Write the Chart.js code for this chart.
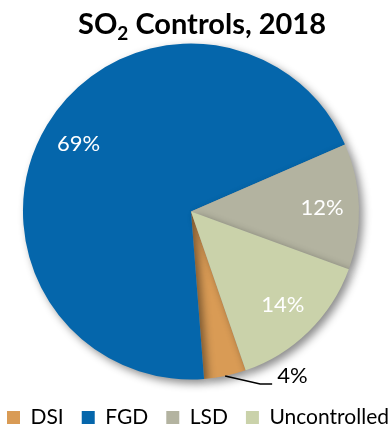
<!DOCTYPE html>
<html>
<head>
<meta charset="utf-8">
<script src="https://cdn.jsdelivr.net/npm/chart.js@4/dist/chart.umd.min.js"></script>
<style>
  html, body { margin: 0; padding: 0; background: #fff; }
  #box { width: 391px; height: 427px; }
</style>
</head>
<body>
<div id="box"><canvas id="grafico"></canvas></div>
<script>
// Dados do gráfico
const categorias = ['DSI', 'FGD', 'LSD', 'Uncontrolled'];
const valores = [4, 69, 12, 14];
const cores = ['#D99B55', '#0566AB', '#B3B3A0', '#CAD2AA'];
const FONTE = 'Lato, "Open Sans", sans-serif';

// Título com subscrito (SO2)
const pluginTitulo = {
    id: 'titulo',
    afterDraw(chart) {
        const ctx = chart.ctx;
        const partes = [
            { t: 'SO', size: 29, dy: 0 },
            { t: '2', size: 19, dy: 6 },
            { t: ' Controls, 2018', size: 29, dy: 0 }
        ];
        ctx.save();
        ctx.fillStyle = '#000';
        ctx.textBaseline = 'alphabetic';
        let total = 0;
        partes.forEach(p => {
            ctx.font = `bold ${p.size}px ${FONTE}`;
            p.w = ctx.measureText(p.t).width;
            total += p.w;
        });
        let x = 202 - total / 2;
        partes.forEach(p => {
            ctx.font = `bold ${p.size}px ${FONTE}`;
            ctx.fillText(p.t, x, 34 + p.dy);
            x += p.w;
        });
        ctx.restore();
    }
};

// Sombra da pizza
const pluginSombra = {
    id: 'sombra',
    beforeDatasetsDraw(chart) {
        const ctx = chart.ctx;
        ctx.save();
        ctx.shadowColor = 'rgba(0,0,0,0.45)';
        ctx.shadowBlur = 8;
        ctx.shadowOffsetX = 4;
        ctx.shadowOffsetY = 4;
    },
    afterDatasetsDraw(chart) {
        chart.ctx.restore();
    }
};

// Rótulos de porcentagem
const pluginRotulos = {
    id: 'rotulos',
    afterDatasetsDraw(chart) {
        const ctx = chart.ctx;
        const meta = chart.getDatasetMeta(0);
        ctx.save();
        ctx.font = `22px ${FONTE}`;
        meta.data.forEach((arc, i) => {
            const texto = Math.round(valores[i]) + '%';
            const meio = (arc.startAngle + arc.endAngle) / 2;
            if (i === 0) {
                // fatia pequena: rótulo fora com linha
                const x0 = arc.x + Math.cos(meio) * arc.outerRadius;
                const y0 = arc.y + Math.sin(meio) * arc.outerRadius;
                const x1 = x0 + 35, y1 = y0 + 8;
                const x2 = x1 + 12;
                ctx.strokeStyle = '#000';
                ctx.lineWidth = 1.5;
                ctx.beginPath();
                ctx.moveTo(x0, y0);
                ctx.lineTo(x1, y1);
                ctx.lineTo(x2, y1);
                ctx.stroke();
                ctx.fillStyle = '#000';
                ctx.textAlign = 'left';
                ctx.textBaseline = 'alphabetic';
                ctx.fillText(texto, x2 + 5, y1 - 1);
            } else {
                const r = arc.outerRadius * 0.78;
                ctx.fillStyle = '#fff';
                ctx.textAlign = 'center';
                ctx.textBaseline = 'middle';
                ctx.fillText(texto, arc.x + Math.cos(meio) * r, arc.y + Math.sin(meio) * r);
            }
        });
        ctx.restore();
    }
};

// Empurra a legenda para a direita (como no original)
const pluginLegenda = {
    id: 'posLegenda',
    afterLayout(chart) {
        const l = chart.legend;
        const d = 407 - l.right;
        l.left += d;
        l.right += d;
    }
};

new Chart(document.getElementById('grafico'), {
    type: 'pie',
    data: {
        labels: categorias,
        datasets: [{
            data: valores,
            backgroundColor: cores,
            borderWidth: 0,
            radius: 168
        }]
    },
    options: {
        responsive: true,
        maintainAspectRatio: false,
        animation: false,
        rotation: 161,
        layout: {
            padding: { top: 34, left: -40, right: 9, bottom: -11 }
        },
        plugins: {
            legend: {
                position: 'bottom',
                align: 'end',
                labels: {
                    boxWidth: 13,
                    boxHeight: 13,
                    padding: 18,
                    color: '#000',
                    font: { family: FONTE, size: 21 }
                }
            },
            tooltip: { enabled: false }
        }
    },
    plugins: [pluginSombra, pluginRotulos, pluginTitulo, pluginLegenda]
});
</script>
</body>
</html>
